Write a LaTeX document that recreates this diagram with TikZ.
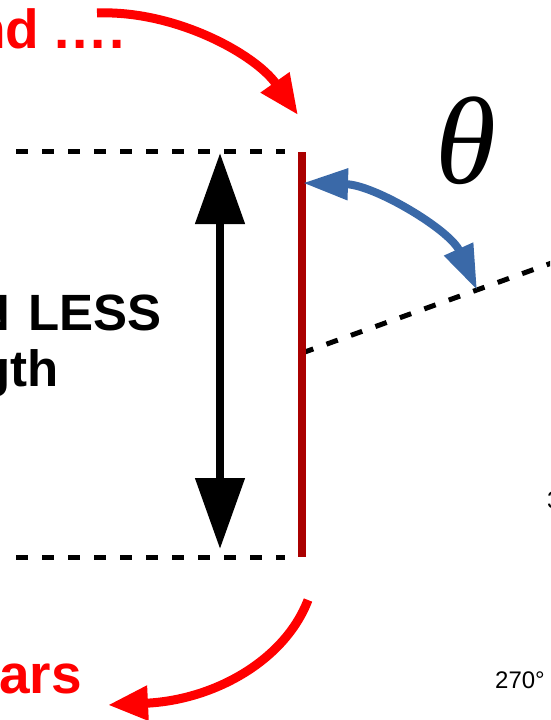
\documentclass[tikz,border=0pt]{standalone}
\usepackage{fontspec}
\setmainfont{Liberation Sans}
\newfontfamily\thetafont{Liberation Serif}
\usetikzlibrary{arrows.meta}
\definecolor{arrred}{RGB}{255,0,0}
\definecolor{barred}{RGB}{170,0,0}
\definecolor{angblue}{RGB}{58,105,168}
\begin{document}
\begin{tikzpicture}[x=1pt,y=-1pt,
  redtext/.style={text=arrred, font=\fontsize{55}{60}\selectfont\bfseries, inner sep=0pt},
  blacktext/.style={text=black, font=\fontsize{51}{56}\selectfont\bfseries, inner sep=0pt},
  degtext/.style={text=black, font=\fontsize{24}{28}\selectfont, inner sep=0pt},
  guide/.style={draw=black, line width=5pt, dash pattern=on 12pt off 14pt},
  redarrow/.style={draw=arrred, line width=9pt, -{Triangle[length=40pt,width=33pt]}},
  heightarrow/.style={draw=black, line width=8pt, {Triangle[length=71pt,width=48pt]}-{Triangle[length=71pt,width=48pt]}},
  anglearrow/.style={draw=angblue, line width=8pt, {Triangle[length=45pt,width=30pt]}-{Triangle[length=45pt,width=30pt]}},
  bar/.style={draw=barred, line width=8pt}]
\useasboundingbox (0,0) rectangle (550,720);
\clip (0,0) rectangle (550,720);

% texts
\node[redtext, anchor=base west] (topt) at (54,48) {\llap{and\hspace{15pt}}.\kern3pt.\kern3pt.\kern3pt.};
\node[redtext, anchor=base east] (bott) at (82,693) {ars};
\node[blacktext, anchor=base west] (less) at (28.3,330) {\llap{N\hspace{18.5pt}}LESS};
\node[blacktext, anchor=base east] (gth) at (59,386) {gth};
\node[inner sep=0pt, anchor=base, font=\fontsize{124}{130}\selectfont\thetafont\itshape] (theta) at (466,183) {θ};
\node[degtext, anchor=base east] (d270) at (545,688) {270°};
\node[degtext, anchor=base west] (d3) at (547,508) {3};

% coordinates
\coordinate (gtl) at (16,151);
\coordinate (gtr) at (285,151);
\coordinate (gbl) at (16,557);
\coordinate (gbr) at (285,557);
\coordinate (bartop) at (302,152);
\coordinate (barbot) at (302,557);
\coordinate (barmid) at (302,353);
\coordinate (rayend) at (560,260);
\coordinate (htop) at (220,153);
\coordinate (hbot) at (220,549);
\coordinate (aa) at (303,183);
\coordinate (ab) at (477,290);
\coordinate (ra1) at (97,13);
\coordinate (ra2) at (298,115);
\coordinate (rb1) at (308,600);
\coordinate (rb2) at (108,705);

% guides
\draw[guide] (gtl) -- (gtr);
\draw[guide] (gbl) -- (gbr);
\draw[guide] (barmid) -- (rayend);

% bar
\draw[bar] (bartop) -- (barbot);

% height arrow
\draw[heightarrow] (htop) -- (hbot);

% angle arrow
\draw[anglearrow] (aa) .. controls (375,185) and (450,230) .. (ab);

% red arrows
\draw[redarrow] (ra1) .. controls (175,10) and (255,54) .. (ra2);
\draw[redarrow] (rb1) .. controls (285,660) and (215,700) .. (rb2);
\end{tikzpicture}
\end{document}
